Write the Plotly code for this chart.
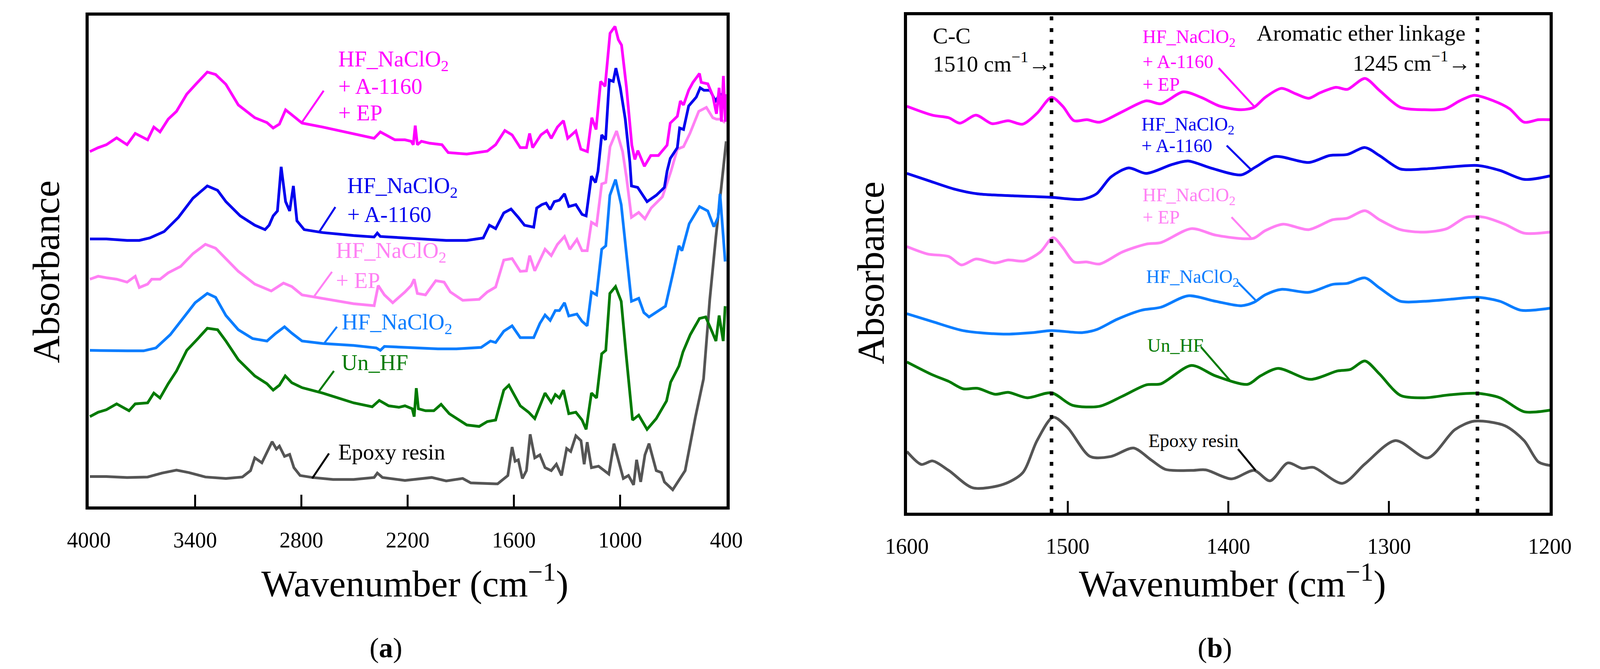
import plotly.graph_objects as go

# ---- panel (a): 4000-400 cm-1, stacked absorbance (a.u.), (wavenumber, value)
a_mag = [(3994, 72.3), (3947, 73.1), (3901, 73.7), (3843, 75.1), (3784, 73.7), (3738, 76.0), (3668, 74.7),
         (3633, 77.3), (3598, 76.3), (3552, 78.9), (3505, 80.5), (3447, 84.0), (3389, 86.3), (3331, 88.5),
         (3284, 88.0), (3226, 86.0), (3156, 81.8), (3063, 79.2), (2994, 78.2), (2959, 77.1), (2924, 77.9),
         (2889, 80.8), (2854, 79.8), (2796, 78.1), (2680, 77.3), (2505, 76.0), (2389, 75.0), (2354, 76.3),
         (2272, 74.7), (2215, 74.7), (2180, 74.4), (2168, 73.7), (2157, 77.6), (2145, 73.7), (2122, 74.4),
         (2075, 74.0), (2006, 73.7), (1971, 72.1), (1866, 71.8), (1750, 72.4), (1703, 73.7), (1651, 76.6),
         (1610, 75.7), (1564, 73.1), (1529, 73.1), (1511, 76.0), (1494, 73.1), (1447, 75.7), (1413, 76.6),
         (1389, 75.0), (1354, 77.3), (1320, 78.6), (1296, 75.0), (1250, 76.5), (1222, 72.8), (1185, 72.3),
         (1160, 79.2), (1136, 76.8), (1110, 86.6), (1085, 85.6), (1057, 96.4), (1029, 97.8), (1010, 95.1),
         (992, 94.0), (964, 85.3), (934, 73.6), (917, 70.7), (900, 72.5), (863, 69.3), (827, 71.5),
         (784, 71.5), (735, 73.6), (717, 78.1), (677, 79.5), (660, 82.6), (642, 81.8), (613, 84.8),
         (589, 86.4), (552, 88.2), (542, 86.4), (505, 86.1), (477, 83.7), (456, 80.0), (441, 85.3),
         (428, 78.4), (417, 87.7), (406, 78.4), (401, 84.0)]
a_blue = [(3994, 54.5), (3901, 54.5), (3784, 54.2), (3715, 54.2), (3656, 54.7), (3575, 56.0), (3494, 58.9),
          (3412, 62.8), (3331, 65.3), (3273, 64.4), (3226, 62.1), (3145, 59.2), (3063, 57.3), (3005, 56.4),
          (2982, 57.3), (2959, 59.2), (2935, 60.2), (2914, 69.2), (2889, 62.1), (2866, 60.2), (2845, 65.3),
          (2825, 58.2), (2784, 56.4), (2680, 55.8), (2505, 55.2), (2389, 54.9), (2371, 55.7), (2354, 55.0),
          (2215, 54.7), (2099, 54.4), (1982, 54.2), (1866, 54.2), (1773, 54.7), (1738, 57.3), (1703, 56.6),
          (1657, 59.8), (1616, 60.6), (1575, 58.9), (1540, 57.3), (1488, 56.9), (1471, 60.8), (1442, 61.5),
          (1418, 61.8), (1395, 60.5), (1372, 62.1), (1343, 62.4), (1314, 63.7), (1290, 61.1), (1250, 61.5),
          (1215, 59.5), (1192, 59.2), (1162, 67.3), (1139, 66.0), (1125, 68.3), (1104, 75.7), (1082, 74.7),
          (1061, 86.9), (1039, 86.6), (1024, 89.3), (999, 85.3), (971, 78.9), (945, 70.1), (936, 65.3),
          (901, 65.0), (848, 62.1), (796, 63.4), (750, 65.0), (735, 68.3), (717, 70.9), (677, 73.1),
          (664, 77.1), (642, 76.8), (613, 81.6), (570, 83.4), (548, 85.3), (527, 84.8), (492, 84.8),
          (462, 82.6), (436, 84.0), (407, 83.7)]
a_pink = [(3994, 46.3), (3947, 46.9), (3901, 46.6), (3843, 46.3), (3784, 45.7), (3738, 46.9), (3715, 44.6),
          (3668, 45.3), (3645, 46.3), (3598, 46.3), (3552, 47.6), (3482, 48.9), (3412, 51.5), (3342, 53.4),
          (3284, 52.6), (3226, 50.5), (3156, 47.9), (3063, 45.3), (2970, 43.9), (2901, 45.5), (2854, 44.8),
          (2796, 43.1), (2680, 42.4), (2505, 41.3), (2389, 40.9), (2366, 45.0), (2331, 43.1), (2284, 41.5),
          (2215, 43.7), (2180, 45.0), (2163, 46.3), (2145, 43.4), (2099, 43.1), (2041, 46.0), (1994, 45.7),
          (1959, 43.7), (1889, 42.0), (1796, 42.2), (1750, 43.7), (1703, 44.7), (1657, 50.2), (1610, 50.5),
          (1564, 47.9), (1529, 48.0), (1511, 51.1), (1482, 48.0), (1424, 52.4), (1389, 51.1), (1354, 53.4),
          (1314, 55.0), (1284, 52.4), (1244, 54.4), (1215, 52.1), (1186, 52.1), (1162, 57.9), (1133, 57.3),
          (1104, 65.7), (1081, 66.0), (1057, 73.3), (1020, 76.5), (986, 72.3), (964, 67.0), (936, 58.9),
          (895, 59.9), (860, 58.6), (825, 60.8), (761, 63.1), (713, 68.3), (677, 72.8), (642, 73.3),
          (606, 76.0), (556, 80.5), (513, 81.3), (477, 79.2), (456, 78.9), (434, 78.9), (407, 78.2)]
a_lblue = [(3994, 31.8), (3901, 31.7), (3784, 31.7), (3691, 31.7), (3621, 32.3), (3540, 35.0), (3470, 38.2),
           (3400, 41.5), (3331, 43.4), (3284, 42.6), (3226, 38.9), (3156, 36.0), (3075, 34.2), (2994, 33.7),
           (2947, 35.2), (2895, 36.6), (2854, 35.3), (2796, 33.7), (2680, 33.2), (2505, 32.8), (2377, 32.3),
           (2354, 31.8), (2331, 32.6), (2215, 32.4), (2099, 32.3), (2029, 32.1), (1924, 32.1), (1785, 32.4),
           (1732, 33.7), (1703, 33.4), (1657, 35.7), (1610, 36.8), (1564, 34.4), (1488, 34.4), (1453, 37.3),
           (1424, 39.0), (1395, 37.9), (1366, 39.9), (1343, 39.9), (1314, 41.5), (1290, 38.8), (1244, 39.2),
           (1215, 37.7), (1186, 36.8), (1162, 43.7), (1133, 43.1), (1104, 52.4), (1081, 53.1), (1058, 63.4),
           (1026, 66.6), (994, 61.5), (965, 51.1), (936, 41.8), (895, 42.4), (866, 39.5), (837, 38.6),
           (796, 39.5), (744, 40.8), (703, 47.3), (668, 53.1), (651, 52.1), (610, 57.6), (552, 61.1),
           (505, 60.2), (471, 57.0), (447, 58.9), (436, 63.7), (418, 55.3), (407, 49.9)]
a_green = [(3994, 18.3), (3947, 19.2), (3901, 19.7), (3843, 20.9), (3773, 19.5), (3738, 20.9), (3668, 21.1),
           (3633, 23.1), (3598, 22.1), (3552, 25.0), (3505, 27.6), (3447, 31.8), (3389, 34.0), (3331, 36.3),
           (3273, 36.0), (3226, 33.7), (3156, 29.9), (3063, 26.6), (2994, 25.0), (2959, 23.7), (2924, 24.7),
           (2891, 26.6), (2854, 25.2), (2796, 24.2), (2680, 23.1), (2505, 21.1), (2400, 20.3), (2360, 21.6),
           (2307, 20.5), (2249, 20.2), (2215, 20.5), (2174, 19.9), (2163, 18.3), (2151, 24.1), (2139, 19.9),
           (2099, 19.5), (2052, 19.5), (2011, 20.8), (1965, 18.9), (1866, 16.6), (1796, 16.3), (1750, 17.3),
           (1703, 17.6), (1657, 23.7), (1628, 24.7), (1564, 20.5), (1517, 19.2), (1482, 17.9), (1424, 23.1),
           (1389, 21.2), (1366, 22.8), (1343, 22.1), (1320, 23.7), (1290, 18.9), (1250, 19.2), (1215, 17.6),
           (1192, 15.7), (1162, 23.1), (1133, 22.1), (1104, 31.1), (1081, 31.8), (1058, 43.4), (1026, 44.8),
           (994, 41.8), (965, 30.5), (930, 17.6), (895, 18.6), (848, 15.7), (796, 17.9), (738, 21.5),
           (715, 25.3), (668, 28.6), (645, 31.5), (604, 35.0), (552, 38.3), (517, 38.6), (482, 35.7),
           (459, 33.7), (441, 38.9), (418, 33.7), (407, 40.8)]
a_epoxy = [(3994, 6.1), (3901, 6.1), (3784, 5.9), (3668, 6.0), (3587, 6.8), (3505, 7.4), (3435, 6.9),
           (3342, 6.0), (3226, 5.7), (3133, 6.0), (3087, 7.3), (3063, 9.9), (3023, 8.9), (2994, 11.2),
           (2965, 13.2), (2941, 11.7), (2924, 12.3), (2895, 10.2), (2866, 10.6), (2842, 7.9), (2807, 6.3),
           (2738, 5.9), (2621, 5.5), (2505, 5.5), (2389, 5.9), (2371, 6.8), (2342, 5.9), (2215, 5.3),
           (2064, 5.9), (1982, 5.2), (1889, 5.7), (1843, 4.8), (1692, 4.6), (1634, 6.3), (1610, 12.1),
           (1593, 9.2), (1575, 9.5), (1552, 5.7), (1529, 7.3), (1508, 14.7), (1482, 9.9), (1453, 10.5),
           (1424, 7.9), (1389, 7.3), (1360, 8.6), (1331, 6.3), (1302, 11.8), (1279, 11.2), (1250, 14.4),
           (1221, 13.4), (1203, 8.6), (1186, 13.1), (1162, 7.9), (1122, 8.2), (1064, 6.6), (1035, 12.8),
           (1006, 8.9), (982, 5.7), (953, 6.3), (924, 4.4), (907, 9.5), (884, 5.0), (860, 10.5), (837, 12.8),
           (796, 7.3), (767, 6.9), (750, 5.0), (703, 3.4), (633, 7.3), (575, 18.2), (529, 26.0), (494, 42.1),
           (459, 55.0), (424, 66.6), (401, 74.4)]

# ---- panel (b): 1600-1200 cm-1 zoom
b_mag = [(1600, 81.7), (1584, 79.9), (1574, 79.4), (1567, 78.3), (1557, 79.9), (1547, 78.2), (1537, 78.8),
         (1528, 78.1), (1519, 80.3), (1510, 83.5), (1503, 81.7), (1496, 78.8), (1488, 79.0), (1480, 78.5),
         (1466, 80.6), (1451, 82.8), (1442, 82.2), (1428, 84.6), (1417, 83.5), (1405, 81.7), (1392, 81.0),
         (1384, 81.5), (1377, 83.5), (1367, 85.3), (1358, 84.2), (1350, 83.3), (1343, 84.4), (1333, 85.5),
         (1326, 85.1), (1315, 87.3), (1306, 84.9), (1293, 81.5), (1278, 81.0), (1265, 81.2), (1256, 82.8),
         (1247, 83.9), (1235, 82.8), (1225, 81.2), (1216, 78.5), (1207, 79.0), (1200, 79.0)]
b_blue = [(1600, 68.2), (1587, 66.8), (1571, 65.1), (1556, 64.1), (1534, 63.7), (1510, 63.4), (1491, 63.0),
          (1482, 64.1), (1473, 67.5), (1462, 69.3), (1451, 68.2), (1435, 70.0), (1425, 70.7), (1411, 69.3),
          (1392, 67.9), (1383, 69.5), (1371, 71.6), (1350, 70.4), (1337, 71.8), (1326, 72.0), (1315, 73.4),
          (1306, 71.8), (1293, 69.1), (1278, 69.1), (1262, 69.5), (1245, 69.8), (1231, 68.8), (1216, 67.0),
          (1200, 67.7)]
b_pink = [(1600, 53.5), (1587, 52.0), (1574, 51.5), (1566, 49.8), (1557, 51.0), (1545, 50.2), (1537, 50.8),
          (1527, 50.6), (1517, 52.4), (1509, 55.3), (1503, 53.3), (1496, 50.4), (1488, 50.4), (1480, 50.0),
          (1466, 52.4), (1451, 54.0), (1442, 54.3), (1423, 57.1), (1408, 55.8), (1392, 55.1), (1384, 55.2),
          (1377, 56.7), (1366, 58.0), (1350, 56.9), (1335, 58.9), (1326, 59.2), (1315, 60.7), (1306, 58.9),
          (1293, 56.9), (1278, 56.4), (1264, 57.1), (1252, 59.4), (1241, 59.4), (1228, 58.0), (1216, 56.2),
          (1200, 56.4)]
b_lblue = [(1600, 40.0), (1584, 38.4), (1565, 36.6), (1540, 35.9), (1522, 36.2), (1510, 36.6), (1491, 36.2),
           (1482, 36.8), (1469, 38.9), (1454, 40.7), (1442, 41.3), (1425, 43.6), (1408, 42.5), (1392, 41.6),
           (1384, 42.3), (1377, 43.8), (1367, 44.9), (1350, 44.3), (1335, 45.9), (1326, 46.1), (1315, 47.2),
           (1306, 45.2), (1293, 42.5), (1278, 42.5), (1262, 42.9), (1245, 43.3), (1231, 42.5), (1218, 40.7),
           (1200, 41.1)]
b_green = [(1600, 30.3), (1584, 27.7), (1574, 26.4), (1565, 24.9), (1556, 25.0), (1545, 23.8), (1537, 24.2),
           (1525, 23.1), (1510, 24.1), (1497, 21.6), (1480, 21.4), (1466, 23.4), (1451, 25.7), (1442, 25.9),
           (1423, 29.6), (1408, 27.5), (1388, 25.8), (1380, 27.5), (1369, 29.0), (1349, 26.8), (1332, 28.5),
           (1324, 28.8), (1315, 30.5), (1306, 27.9), (1293, 23.6), (1278, 23.1), (1262, 23.7), (1245, 24.0),
           (1231, 23.1), (1216, 20.3), (1200, 20.6)]
b_epoxy = [(1600, 12.3), (1591, 9.7), (1584, 10.4), (1574, 8.5), (1559, 5.0), (1540, 5.7), (1528, 8.0),
           (1519, 14.5), (1509, 19.2), (1500, 17.1), (1486, 11.3), (1473, 11.3), (1459, 13.0), (1448, 10.6),
           (1439, 8.7), (1423, 8.5), (1414, 8.6), (1398, 6.8), (1384, 8.5), (1374, 6.4), (1363, 10.0),
           (1354, 8.9), (1347, 9.1), (1329, 5.9), (1315, 9.8), (1296, 14.5), (1276, 11.0), (1259, 16.7),
           (1247, 18.4), (1228, 17.5), (1216, 14.5), (1207, 10.2), (1200, 9.5)]

ticks_a = [4000, 3400, 2800, 2200, 1600, 1000, 400]
ticks_b = [1600, 1500, 1400, 1300, 1200]
marker_lines = [1510, 1245]

W, H = 4100, 1712
FONT = "Liberation Serif"
C_MAG, C_BLUE, C_PINK = "#ff00ff", "#0000ee", "#ff80f4"
C_LBLUE, C_GREEN, C_GREY = "#0a7dff", "#007a00", "#555555"


def px(x):
    return x / W


def py(y):
    return 1 - y / H


series_a = [(a_epoxy, C_GREY), (a_green, C_GREEN), (a_lblue, C_LBLUE),
            (a_pink, C_PINK), (a_blue, C_BLUE), (a_mag, C_MAG)]
series_b = [(b_epoxy, C_GREY), (b_green, C_GREEN), (b_lblue, C_LBLUE),
            (b_pink, C_PINK), (b_blue, C_BLUE), (b_mag, C_MAG)]

fig = go.Figure()
for pts, col in series_a:
    xs, ys = zip(*pts)
    fig.add_trace(go.Scatter(x=xs, y=ys, mode="lines", line=dict(color=col, width=7),
                             xaxis="x", yaxis="y", showlegend=False))
for pts, col in series_b:
    xs, ys = zip(*pts)
    fig.add_trace(go.Scatter(x=xs, y=ys, mode="lines",
                             line=dict(color=col, width=7, shape="spline", smoothing=0.8),
                             xaxis="x2", yaxis="y2", showlegend=False))

xax = dict(showline=True, mirror=True, linecolor="black", linewidth=8, showgrid=False,
           zeroline=False, ticks="inside", ticklen=30, tickwidth=5, tickcolor="black",
           tickfont=dict(family=FONT, size=56, color="black"), ticklabelstandoff=30)
yax = dict(showline=True, mirror=True, linecolor="black", linewidth=8, showgrid=False,
           zeroline=False, showticklabels=False, ticks="", range=[0, 100])

fig.update_layout(
    width=W, height=H, margin=dict(l=0, r=0, t=0, b=0),
    paper_bgcolor="white", plot_bgcolor="white",
    xaxis=dict(xax, domain=[px(168), px(1846)], range=[4000, 400], tickvals=ticks_a, anchor="y"),
    yaxis=dict(yax, domain=[py(1288), py(32)], anchor="x"),
    xaxis2=dict(xax, domain=[px(2321), px(4013)], range=[1600, 1200], tickvals=ticks_b, anchor="y2"),
    yaxis2=dict(yax, domain=[py(1304), py(31)], anchor="x2"),
)

shapes = []
for xv in marker_lines:
    shapes.append(dict(type="line", xref="x2", yref="y2", x0=xv, x1=xv, y0=0, y1=100,
                       line=dict(color="black", width=9, dash="10px,20px")))

# leader lines from the labels to the curves
leaders_a = [((2796, 78.3), (2674, 84.7), C_MAG), ((2698, 56.0), (2608, 61.0), C_BLUE),
             ((2726, 42.9), (2627, 47.8), C_PINK), ((2674, 33.1), (2599, 36.6), C_LBLUE),
             ((2702, 23.4), (2616, 27.6), C_GREEN), ((2739, 5.7), (2644, 10.8), "black")]
leaders_b = [((1406, 89.4), (1384, 81.7), C_MAG), ((1401, 73.8), (1386, 69.0), C_BLUE),
             ((1398, 59.4), (1386, 55.3), C_PINK), ((1394, 46.3), (1383, 42.7), C_LBLUE),
             ((1417, 33.3), (1399, 26.6), C_GREEN), ((1394, 12.8), (1383, 8.5), "black")]
for (p0, p1, col) in leaders_a:
    shapes.append(dict(type="line", xref="x", yref="y", x0=p0[0], y0=p0[1], x1=p1[0], y1=p1[1],
                       line=dict(color=col, width=5)))
for (p0, p1, col) in leaders_b:
    shapes.append(dict(type="line", xref="x2", yref="y2", x0=p0[0], y0=p0[1], x1=p1[0], y1=p1[1],
                       line=dict(color=col, width=5)))
fig.update_layout(shapes=shapes)


def label(x, y, text, size, color="black", anchor="left", angle=0):
    return dict(x=px(x), y=py(y), xref="paper", yref="paper", text=text, showarrow=False,
                xanchor=anchor, yanchor="middle", textangle=angle,
                font=dict(family=FONT, size=size, color=color))


NACLO = "HF_NaClO<sub>2</sub>"
LA, LB = 57, 48
ann = [
    # panel (a)
    label(822, 147, NACLO, LA, C_MAG), label(822, 212, "+ A-1160", LA, C_MAG), label(822, 281, "+ EP", LA, C_MAG),
    label(846, 471, NACLO, LA, C_BLUE), label(846, 540, "+ A-1160", LA, C_BLUE),
    label(816, 637, NACLO, LA, C_PINK), label(816, 710, "+ EP", LA, C_PINK),
    label(832, 820, NACLO, LA, C_LBLUE),
    label(831, 919, "Un_HF", LA, C_GREEN),
    label(822, 1148, "Epoxy resin", LA),
    label(56, 687, "Absorbance", 98, angle=-90, anchor="center"),
    label(1026, 1478, "Wavenumber (cm<sup>−1</sup>)", 96, anchor="center"),
    label(950, 1650, "(<b>a</b>)", 72, anchor="center"),
    # panel (b)
    label(2387, 83, "C-C", 58), label(2387, 152, "1510 cm<sup>−1</sup>→", 58),
    label(3240, 77, "Aromatic ether linkage", 58),
    label(3808, 149, "1245 cm<sup>−1</sup>→", 58, anchor="right"),
    label(2939, 89, NACLO, LB, C_MAG), label(2939, 149, "+ A-1160", LB, C_MAG), label(2939, 207, "+ EP", LB, C_MAG),
    label(2936, 313, NACLO, LB, C_BLUE), label(2936, 365, "+ A-1160", LB, C_BLUE),
    label(2939, 494, NACLO, LB, C_PINK), label(2939, 548, "+ EP", LB, C_PINK),
    label(2949, 703, NACLO, LB, C_LBLUE),
    label(2952, 875, "Un_HF", LB, C_GREEN),
    label(2955, 1119, "Epoxy resin", LB),
    label(2226, 690, "Absorbance", 98, angle=-90, anchor="center"),
    label(3178, 1478, "Wavenumber (cm<sup>−1</sup>)", 96, anchor="center"),
    label(3132, 1650, "(<b>b</b>)", 72, anchor="center"),
]
fig.update_layout(annotations=ann)

fig.write_html("out.html")
